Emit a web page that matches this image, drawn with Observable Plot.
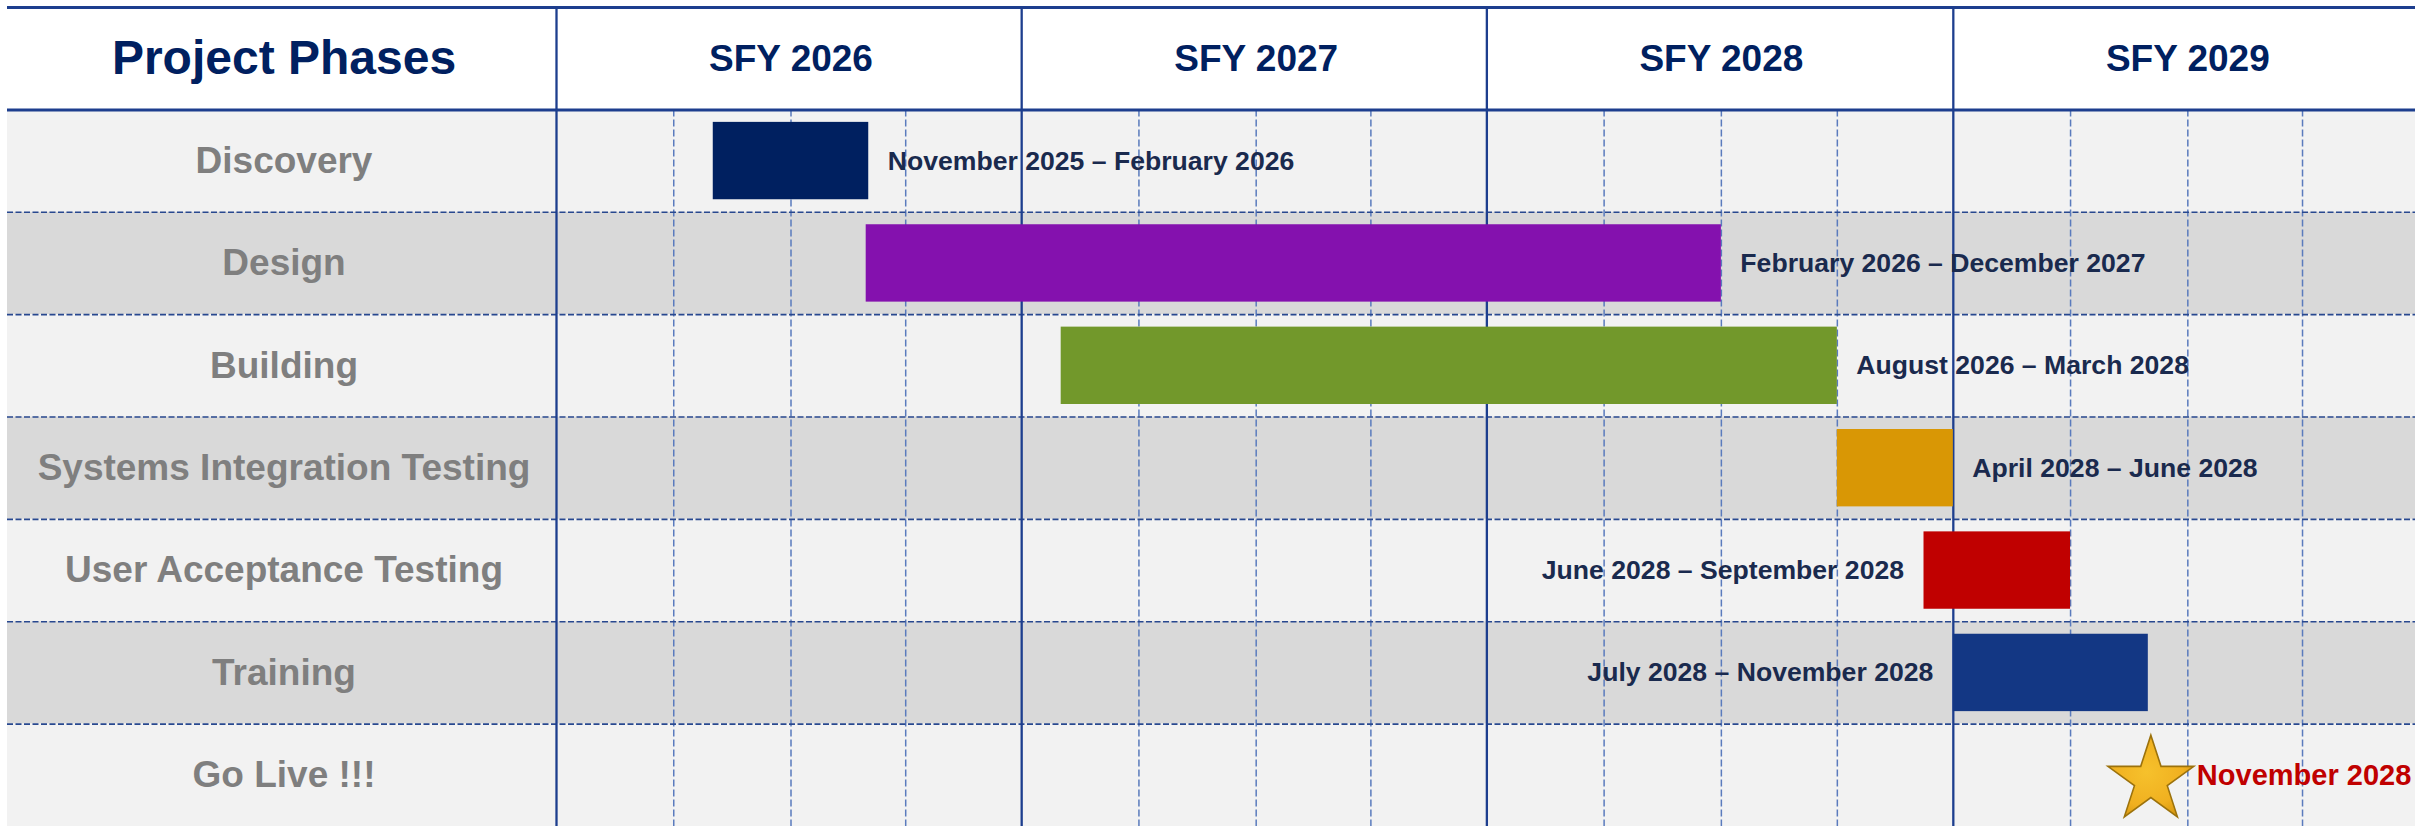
<!DOCTYPE html>
<html>
<head>
<meta charset="utf-8">
<script src="https://cdn.jsdelivr.net/npm/d3@7"></script>
<script src="https://cdn.jsdelivr.net/npm/@observablehq/plot@0.6"></script>
<style>
  html, body { margin: 0; padding: 0; background: #ffffff; }
  #chart svg { display: block; }
</style>
</head>
<body>
<div id="chart"></div>
<script>
// ---- Data ----
const headerTitle = "Project Phases";
const fiscalYears = [2026, 2027, 2028, 2029];
const fiscalYearLabels = ["SFY 2026", "SFY 2027", "SFY 2028", "SFY 2029"];

const phases = [
  "Discovery",
  "Design",
  "Building",
  "Systems Integration Testing",
  "User Acceptance Testing",
  "Training",
  "Go Live !!!"
];
const phaseStarts = ["2025-11-01", "2026-03-01", "2026-08-01", "2028-04-01", "2028-06-08", "2028-07-01"];
const phaseEnds   = ["2026-03-03", "2028-01-01", "2028-04-01", "2028-07-01", "2028-10-01", "2028-12-01"];
const phaseLabels = [
  "November 2025 \u2013 February 2026",
  "February 2026 \u2013 December 2027",
  "August 2026 \u2013 March 2028",
  "April 2028 \u2013 June 2028",
  "June 2028 \u2013 September 2028",
  "July 2028 \u2013 November 2028"
];
const goLiveDate = "2028-12-03";
const goLiveLabel = "November 2028";

// ---- Styles (separate from data) ----
const barColors = ["#002060", "#8411ae", "#72982b", "#d99705", "#c00000", "#133784"];
const labelLeftOfBar = new Set(["User Acceptance Testing", "Training"]);
const FONT = "'Liberation Sans', Arial, Helvetica, sans-serif";
const NAVY = "#002060";
const LINE = "#1d3e8e";

// ---- Derived tables ----
const parse = d3.utcParse("%Y-%m-%d");
const rowOf = name => phases.indexOf(name) + 1; // row 0 is the header
const tasks = phaseStarts.map((s, i) => ({
  phase: phases[i],
  start: parse(s),
  end: parse(phaseEnds[i]),
  label: phaseLabels[i],
  color: barColors[i],
  row: rowOf(phases[i])
}));
const fyStart = fy => new Date(Date.UTC(fy - 1, 6, 1));   // SFY begins July 1
const fyMid = fy => new Date(Date.UTC(fy - 1, 12, 1));    // January 1
const yearBounds = fiscalYears.map(fyStart);
const quarterLines = fiscalYears.flatMap(fy => [3, 6, 9].map(m => d3.utcMonth.offset(fyStart(fy), m)));
const domainEnd = new Date(Date.UTC(fiscalYears[fiscalYears.length - 1], 6, 1));
const rows = d3.range(0, phases.length + 1).map(i => ({row: i, fill: i === 0 ? "#ffffff" : (i % 2 === 1 ? "#f2f2f2" : "#d9d9d9")}));
const goLive = [{date: parse(goLiveDate), row: rowOf("Go Live !!!"), label: goLiveLabel}];

const rightLabels = tasks.filter(d => !labelLeftOfBar.has(d.phase));
const leftLabels = tasks.filter(d => labelLeftOfBar.has(d.phase));

const chart = Plot.plot({
  width: 2433,
  height: 826,
  marginLeft: 7,
  marginRight: 18,
  marginTop: 7,
  marginBottom: 0,
  style: {fontFamily: FONT, background: "#ffffff", overflow: "visible"},
  x: {type: "utc", domain: [yearBounds[0], domainEnd], range: [556, 2418], axis: null},
  y: {domain: [0, phases.length + 1], reverse: true, axis: null},
  marks: [
    // row stripes across the whole table
    Plot.rect(rows, {y1: "row", y2: d => d.row + 1, fill: "fill"}),
    // quarter gridlines (dashed)
    Plot.ruleX(quarterLines, {x: d => d, y1: 1, y2: phases.length + 1, stroke: "#5a7bbd", strokeWidth: 1.5, strokeDasharray: "7,3"}),
    // row separators (dashed)
    Plot.ruleY(d3.range(2, phases.length + 1), {stroke: "#28488f", strokeWidth: 1.7, strokeDasharray: "6,2.5"}),
    // header lines
    Plot.ruleY([0, 1], {stroke: LINE, strokeWidth: 3}),
    // fiscal-year boundaries (solid)
    Plot.ruleX(yearBounds, {x: d => d, y1: 0, y2: phases.length + 1, stroke: LINE, strokeWidth: 2.3}),
    // phase bars
    Plot.rect(tasks, {x1: "start", x2: "end", y1: "row", y2: d => d.row + 1, insetTop: 12.5, insetBottom: 12.5, fill: "color"}),
    // bar labels
    Plot.text(rightLabels, {x: "end", y: d => d.row + 0.5, text: "label", dx: 19, textAnchor: "start", fontSize: 26.6, fontWeight: "bold", fill: "#1a2a4e"}),
    Plot.text(leftLabels, {x: "start", y: d => d.row + 0.5, text: "label", dx: -20, textAnchor: "end", fontSize: 26.6, fontWeight: "bold", fill: "#1a2a4e"}),
    // go-live milestone
    Plot.dot(goLive, {x: "date", y: d => d.row + 0.5, symbol: "star", r: 27, dy: 5, fill: "url(#starGrad)", stroke: "#9c720c", strokeWidth: 1.6}),
    Plot.text(goLive, {x: "date", y: d => d.row + 0.5, text: "label", dx: 46, textAnchor: "start", fontSize: 29, fontWeight: "bold", fill: "#c00000"}),
    // header texts
    Plot.text(fiscalYears, {x: fyMid, y: () => 0.5, text: (d, i) => fiscalYearLabels[i], fontSize: 37, fontWeight: "bold", fill: NAVY}),
    Plot.text([headerTitle], {y: () => 0.5, frameAnchor: "left", dx: 276.5, text: d => d, textAnchor: "middle", fontSize: 48, fontWeight: "bold", fill: NAVY}),
    // phase names
    Plot.text(phases, {y: d => rowOf(d) + 0.5, frameAnchor: "left", dx: 276.5, text: d => d, textAnchor: "middle", fontSize: 37, fontWeight: "bold", fill: "#7f7f7f"})
  ]
});

// gradient for the star (style only)
const defs = d3.select(chart).insert("defs", ":first-child");
const grad = defs.append("radialGradient").attr("id", "starGrad").attr("cx", "45%").attr("cy", "45%").attr("r", "60%");
grad.append("stop").attr("offset", "0%").attr("stop-color", "#f6c12c");
grad.append("stop").attr("offset", "70%").attr("stop-color", "#f0b020");
grad.append("stop").attr("offset", "100%").attr("stop-color", "#d99a12");

document.getElementById("chart").appendChild(chart);
</script>
</body>
</html>
